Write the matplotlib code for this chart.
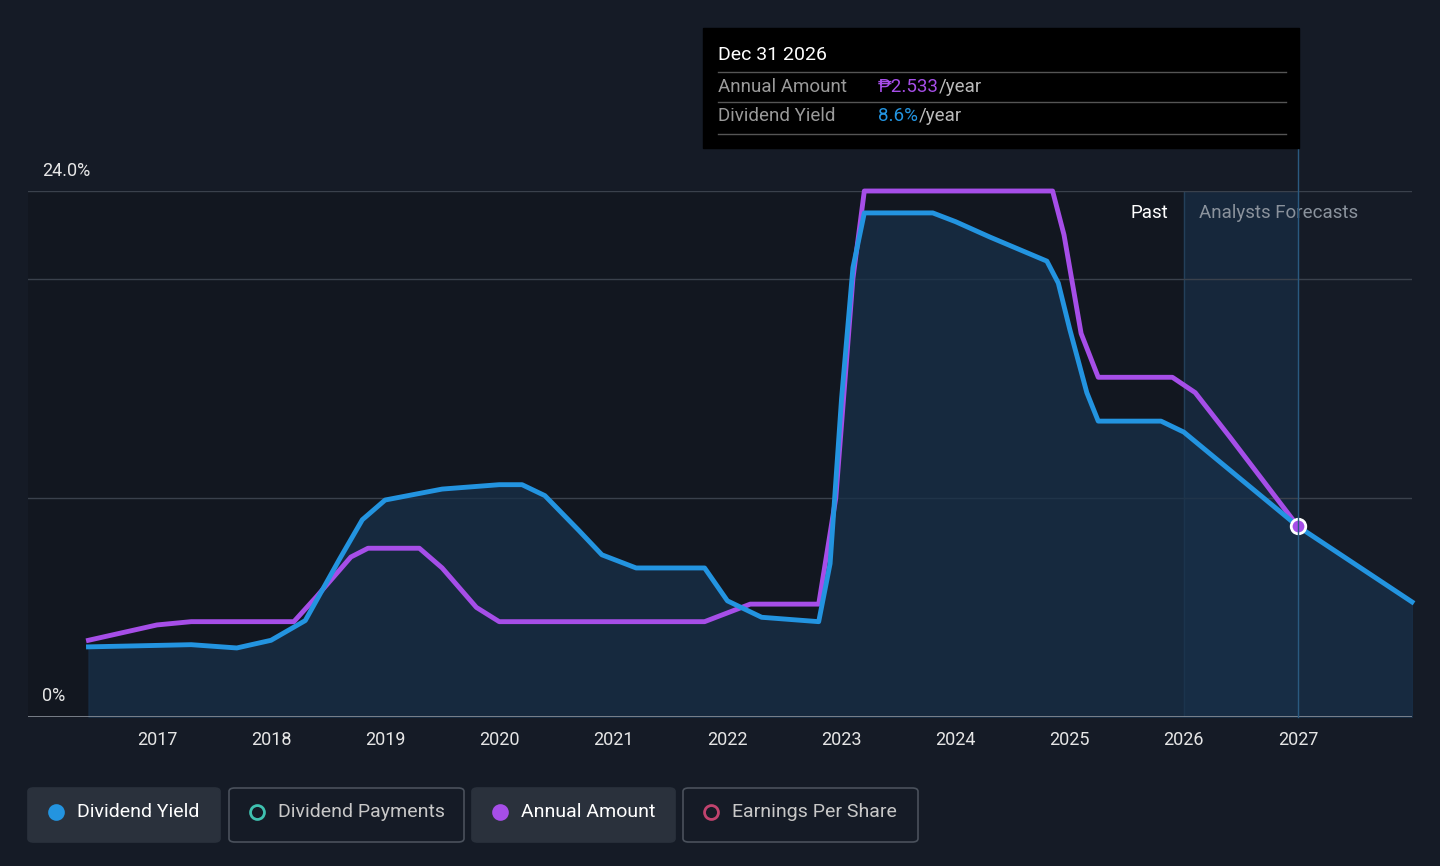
import matplotlib
matplotlib.use('Agg')
import matplotlib.pyplot as plt
from matplotlib.patches import FancyBboxPatch, Rectangle

plt.rcParams['font.family'] = ['Roboto', 'DejaVu Sans']

# values (year, percent)
yield_x = [2016.4, 2017.3, 2017.7, 2018.0, 2018.3, 2018.6, 2018.8, 2019.0, 2019.5, 2020.0, 2020.2,
           2020.4, 2020.7, 2020.9, 2021.2, 2021.8, 2022.0, 2022.3, 2022.8, 2022.9, 2023.0, 2023.1,
           2023.2, 2023.8, 2024.0, 2024.3, 2024.8, 2024.9, 2025.0, 2025.15, 2025.25, 2025.8,
           2026.0, 2027.0, 2028.0]
yield_y = [3.2, 3.3, 3.15, 3.5, 4.4, 7.2, 9.0, 9.9, 10.4, 10.6, 10.6,
           10.1, 8.5, 7.4, 6.8, 6.8, 5.3, 4.55, 4.35, 7.0, 14.5, 20.5,
           23.0, 23.0, 22.6, 21.9, 20.8, 19.8, 17.7, 14.8, 13.5, 13.5,
           13.0, 8.7, 5.25]
amount_x = [2016.4, 2017.0, 2017.3, 2018.2, 2018.4, 2018.7, 2018.85, 2019.3, 2019.5, 2019.8, 2020.0,
            2021.8, 2022.2, 2022.8, 2022.95, 2023.1, 2023.2, 2024.85, 2024.95, 2025.1, 2025.25,
            2025.9, 2026.1, 2026.4, 2027.0]
amount_y = [3.5, 4.2, 4.35, 4.35, 5.5, 7.3, 7.7, 7.7, 6.8, 5.0, 4.35,
            4.35, 5.15, 5.15, 10.0, 20.0, 24.0, 24.0, 22.0, 17.5, 15.5,
            15.5, 14.8, 12.8, 8.7]
year_ticks = list(range(2017, 2028))

BG = '#151b26'
BLUE = '#2394e0'
PURPLE = '#a64ee8'

fig = plt.figure(figsize=(14.4, 8.66), dpi=100, facecolor=BG)
ax = fig.add_axes([28/1440, 149/866, 1384/1440, 526/866], facecolor=BG)
ax.set_xlim(2015.87, 2028.0)
ax.set_ylim(0, 24)

ax.axvspan(2015.87, 2026.0, color='#121720', zorder=0)
ax.axvspan(2026.0, 2027.0, color='#17304a', alpha=0.6, zorder=0)
ax.axvline(2026.0, color='#24405a', lw=1, zorder=1)
for g in [10, 20, 24]:
    ax.axhline(g, color='#3a414c', lw=1, zorder=1)
ax.axhline(0, color='#8a9099', lw=1.2, zorder=3)

ax.fill_between(yield_x, yield_y, 0, color='#183049', alpha=0.75, zorder=2)
ax.plot(amount_x, amount_y, color=PURPLE, lw=3.5, zorder=4, solid_joinstyle='round', clip_on=False)
ax.plot(yield_x, yield_y, color=BLUE, lw=3.5, zorder=5, solid_joinstyle='round', clip_on=False)
ax.scatter([2027.0], [8.7], s=110, color=PURPLE, edgecolor='white', linewidth=2, zorder=6)

ax.set_xticks(year_ticks)
ax.set_xticklabels([str(y) for y in year_ticks], color='#e6e6e6', fontsize=13)
ax.tick_params(axis='x', length=0, pad=10)
ax.set_yticks([])
for s in ax.spines.values():
    s.set_visible(False)

fig.text(42/1440, 1 - 171/866, '24.0%', color='#e6e6e6', fontsize=13, va='center')
fig.text(42/1440, 1 - 696/866, '0%', color='#e6e6e6', fontsize=13, va='center')
ax.text(2025.86, 23.0, 'Past', color='white', fontsize=13.5, ha='right', va='center')
ax.text(2026.13, 23.0, 'Analysts Forecasts', color='#8a929c', fontsize=13.5, ha='left', va='center')

# vertical marker line and tooltip
fig.add_artist(plt.Line2D([1298/1440, 1298/1440], [1 - 717/866, 1 - 148/866], color='#2a5a80', lw=1))
fig.add_artist(Rectangle((703/1440, 1 - 148/866), 596/1440, 120/866, color='black', zorder=10))
fig.text(718/1440, 1 - 55/866, 'Dec 31 2026', color='white', fontsize=14, va='center', zorder=11)
for yy in [72, 102, 134]:
    fig.add_artist(plt.Line2D([718/1440, 1286/1440], [1 - yy/866] * 2, color='#555555', lw=1, zorder=11))
fig.text(718/1440, 1 - 87/866, 'Annual Amount', color='#9a9a9a', fontsize=13.5, va='center', zorder=11)
fig.text(878/1440, 1 - 87/866, '₱2.533', color=PURPLE, fontsize=13.5, va='center', zorder=11)
fig.text(939/1440, 1 - 87/866, '/year', color='#bbbbbb', fontsize=13.5, va='center', zorder=11)
fig.text(718/1440, 1 - 116/866, 'Dividend Yield', color='#9a9a9a', fontsize=13.5, va='center', zorder=11)
fig.text(878/1440, 1 - 116/866, '8.6%', color=BLUE, fontsize=13.5, va='center', zorder=11)
fig.text(919/1440, 1 - 116/866, '/year', color='#bbbbbb', fontsize=13.5, va='center', zorder=11)

# legend
legend = [(28, 220, 'Dividend Yield', BLUE, True, True),
          (229, 464, 'Dividend Payments', '#3fc1b0', False, False),
          (472, 675, 'Annual Amount', PURPLE, True, True),
          (683, 918, 'Earnings Per Share', '#c0436e', False, False)]
for x0, x1, label, c, filled, active in legend:
    box = FancyBboxPatch((x0/1440, 1 - 842/866), (x1 - x0)/1440, 54/866,
                         boxstyle='round,pad=0,rounding_size=0.004',
                         facecolor='#2a313c' if active else BG,
                         edgecolor='#2a313c' if active else '#4a515c', lw=1.2,
                         transform=fig.transFigure)
    fig.add_artist(box)
    fig.add_artist(plt.Line2D([(x0 + 28)/1440], [1 - 812/866], marker='o', markersize=10,
                              color=c if filled else 'none', markeredgecolor=c, markeredgewidth=2,
                              transform=fig.transFigure))
    fig.text((x0 + 49)/1440, 1 - 812/866, label, color='white' if active else '#c8c8c8',
             fontsize=14, va='center')

fig.savefig('out.png', dpi=100, facecolor=BG)
